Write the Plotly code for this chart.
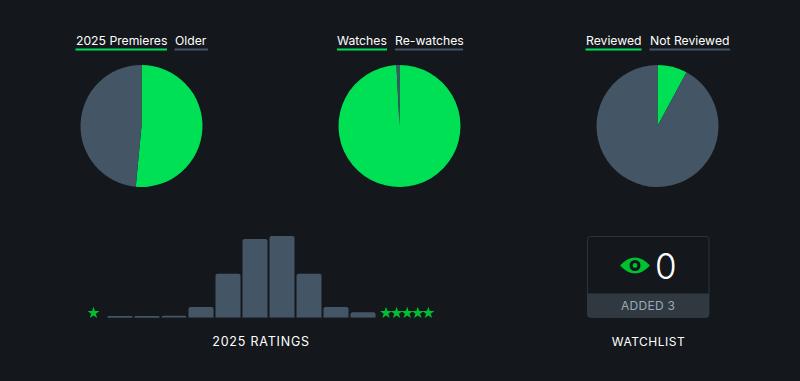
import plotly.graph_objects as go

W, H = 800, 381
BG = "#14181c"; GREEN = "#00e054"; STAR = "#00c030"; SLATE = "#456"; FONT = "Inter"

pie_labels = [["2025 Premieres", "Older"], ["Watches", "Re-watches"], ["Reviewed", "Not Reviewed"]]
pie_values = [[51.5, 48.5], [99.2, 0.8], [7.9, 92.1]]
pie_left_px = [80.5, 338.5, 596.5]
legend_spans = [[(75.5, 167), (174.5, 208)], [(337, 387), (395, 463)], [(585.5, 641.5), (649.5, 730)]]

rating_labels = ["0.5", "1", "1.5", "2", "2.5", "3", "3.5", "4", "4.5", "5"]
rating_values = [1.5, 1.5, 2, 10.7, 44, 78.7, 81.7, 44, 10.7, 5.4]
star_x_px = [93.5, 386, 396.6, 407.2, 417.8, 428.4]
star_y_px = [313] * 6

def px(x): return x / W
def py(y): return 1 - y / H

fig = go.Figure()
for lab, val, left in zip(pie_labels, pie_values, pie_left_px):
    fig.add_trace(go.Pie(labels=lab, values=val, sort=False, direction="clockwise", rotation=0,
                         textinfo="none", showlegend=False,
                         marker=dict(colors=[GREEN, SLATE], line=dict(width=0)),
                         domain=dict(x=[px(left), px(left + 122)], y=[py(187), py(65)])))

fig.add_trace(go.Bar(x=rating_labels, y=rating_values, marker=dict(color=SLATE, cornerradius=2, line=dict(width=0)),
                     showlegend=False))
fig.add_trace(go.Scatter(x=star_x_px, y=star_y_px, xaxis="x2", yaxis="y2", mode="markers", hoverinfo="skip",
                         marker=dict(symbol="star", size=9, color=STAR, line=dict(width=0)), showlegend=False))

shapes = []; annotations = []
def text(x, y, s, size, color="#ffffff", anchor="center", family=FONT, weight=None):
    f = dict(family=family, size=size, color=color)
    if weight:
        f["weight"] = weight
    annotations.append(dict(x=px(x), y=py(y), xref="paper", yref="paper", text=s, showarrow=False,
                            xanchor=anchor, yanchor="middle", font=f))
def rect(x0, y0, x1, y1, color):
    shapes.append(dict(type="rect", xref="paper", yref="paper", x0=px(x0), x1=px(x1), y0=py(y0), y1=py(y1),
                       fillcolor=color, line=dict(width=0), layer="above"))
def path(points, fill, line=None, lw=0):
    shapes.append(dict(type="path", xref="paper", yref="paper", path=points, fillcolor=fill,
                       line=dict(width=lw, color=line or fill), layer="above"))
def P(x, y): return f"{px(x):.5f},{py(y):.5f}"

for lab, spans in zip(pie_labels, legend_spans):
    for i, (s, (a, b)) in enumerate(zip(lab, spans)):
        text((a + b) / 2, 41, s, 12.2)
        rect(a, 48.5, b, 50.5, GREEN if i == 0 else SLATE)

text(261, 341, "2025 RATINGS", 12.5)
text(648, 341, "WATCHLIST", 12)

# watchlist card
x0, x1, y0, y1, r = 587.5, 709, 236.5, 317.5, 3
card = (f"M{P(x0+r,y0)} L{P(x1-r,y0)} Q{P(x1,y0)} {P(x1,y0+r)} L{P(x1,y1-r)} Q{P(x1,y1)} {P(x1-r,y1)} "
        f"L{P(x0+r,y1)} Q{P(x0,y1)} {P(x0,y1-r)} L{P(x0,y0+r)} Q{P(x0,y0)} {P(x0+r,y0)} Z")
path(card, "rgba(0,0,0,0)", "#2c3440", 1)
y2 = 293.5
band = (f"M{P(x0,y2)} L{P(x1,y2)} L{P(x1,y1-r)} Q{P(x1,y1)} {P(x1-r,y1)} L{P(x0+r,y1)} "
        f"Q{P(x0,y1)} {P(x0,y1-r)} Z")
path(band, "#303840")
text(648, 305.5, "ADDED 3", 12, "#9ab")
text(665.5, 265.5, "0", 35, "#ffffff", family=FONT, weight=300)

# eye icon
cx, cy = 635, 265.5
path(f"M{P(cx-15,cy)} Q{P(cx,cy-16)} {P(cx+15,cy)} Q{P(cx,cy+16)} {P(cx-15,cy)} Z", STAR)
def circle(r, c):
    shapes.append(dict(type="circle", xref="paper", yref="paper", x0=px(cx-r), x1=px(cx+r), y0=py(cy+r), y1=py(cy-r),
                       fillcolor=c, line=dict(width=0), layer="above"))
circle(5.5, BG); circle(2.4, STAR)

fig.update_layout(
    width=W, height=H, margin=dict(l=0, r=0, t=0, b=0), paper_bgcolor=BG, plot_bgcolor="rgba(0,0,0,0)",
    bargap=2 / 27, shapes=shapes, annotations=annotations, showlegend=False,
    xaxis=dict(domain=[px(106.5), px(376.5)], range=[-0.5, 9.5], visible=False, type="category"),
    yaxis=dict(domain=[py(317.7), py(236)], range=[0, 81.7], visible=False),
    xaxis2=dict(domain=[0, 1], range=[0, W], visible=False, anchor="y2"),
    yaxis2=dict(domain=[0, 1], range=[H, 0], visible=False, anchor="x2"),
)
post = """
document.documentElement.style.background='%s';
document.body.style.margin='0';
document.body.style.background='%s';
document.querySelectorAll('.annotation-text').forEach(function(t){
  var s=t.textContent;
  if(s==='2025 RATINGS'){t.style.letterSpacing='0.8px';}
  if(s==='WATCHLIST'){t.style.letterSpacing='0.5px';}
  if(s==='ADDED 3'){t.style.letterSpacing='0.3px';}
});
""" % (BG, BG)
fig.write_html("out.html", config=dict(displayModeBar=False), post_script=post)
